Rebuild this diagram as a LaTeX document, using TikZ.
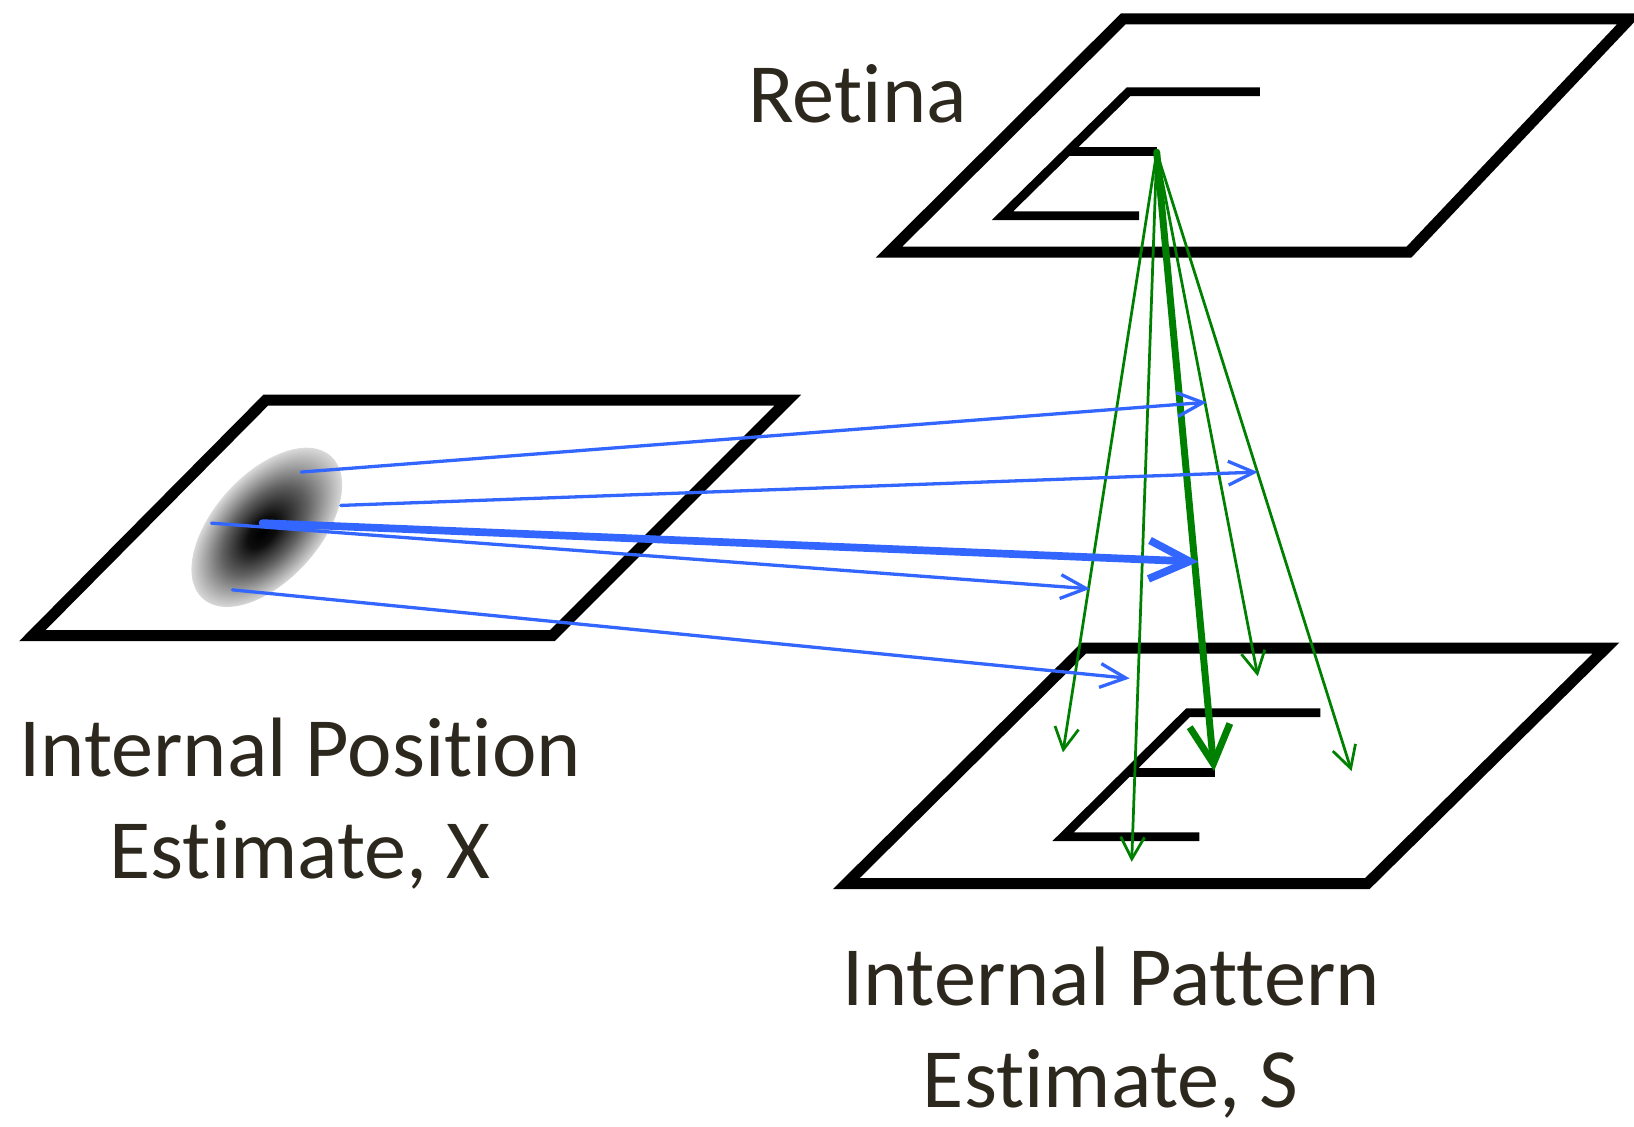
\documentclass[tikz,border=0pt]{standalone}
\usepackage{fontspec}
\setmainfont[Ligatures=NoCommon]{Carlito}
\usetikzlibrary{arrows.meta,positioning}
\definecolor{labelgray}{RGB}{45,40,30}
\definecolor{rayblue}{RGB}{51,102,255}
\definecolor{raygreen}{RGB}{0,128,0}
\pgfdeclareradialshading{blob}{\pgfpoint{-2bp}{0bp}}{color(0bp)=(black); color(5bp)=(black!95); color(14bp)=(black!62); color(20bp)=(black!36); color(25bp)=(black!15); color(26bp)=(white)}

\begin{document}
\begin{tikzpicture}[x=0.01cm, y=-0.01cm]
\tikzstyle{plane} = [line width=3pt, line join=miter]
\tikzstyle{letter} = [line width=2.4pt, line join=miter]
\tikzstyle{planelabel} = [text=labelgray, font=\fontsize{23}{27.9}\selectfont, align=center, inner sep=0pt]
\tikzstyle{greenray} = [raygreen, line width=0.75pt, line cap=round, -{Straight Barb[length=6pt, width=6.5pt]}]
\tikzstyle{greenbig} = [raygreen, line width=1.9pt, line cap=round, -{Straight Barb[length=10.5pt, width=11pt]}]
\tikzstyle{blueray} = [rayblue, line width=0.9pt, line cap=round, -{Straight Barb[length=7pt, width=6.5pt]}]
\tikzstyle{bluebig} = [rayblue, line width=2.1pt, line cap=round, -{Straight Barb[length=11pt, width=10.5pt]}]

\useasboundingbox (0,0) rectangle (1568,1081);

% planes
\draw [plane] (1078,18) -- (1564,18) -- (1352,242) -- (853,242) -- cycle;
\draw [plane] (255,384) -- (756,384) -- (530,610) -- (31,610) -- cycle;
\draw [plane] (1040,622) -- (1541,622) -- (1312,848) -- (812,848) -- cycle;

% letter E on the retina and on the pattern estimate
\draw [letter] (1209,88) -- (1083,88) -- (962,207) -- (1093,207);
\draw [letter] (1026,145) -- (1110,145);
\draw [letter] (1267,684) -- (1140,684) -- (1020,803) -- (1151,803);
\draw [letter] (1082,741) -- (1166,741);

% position estimate blob
\begin{scope}[transform canvas={shift={(256,506)}, rotate=48}]
\shade [shading=blob] (0,0) ellipse [x radius=92, y radius=51];
\end{scope}

% labels
\node [planelabel, anchor=base] (retina) at (823,118) {Retina};
\node [planelabel, anchor=base] (posx) at (288,843) {Internal Position\\Estimate, X};
\node [planelabel, anchor=base] (pats) at (1066,1063) {Internal Pattern\\Estimate, S};

% rays from the retina
\coordinate (fovea) at (1110,146);
\coordinate (g1) at (1020,722);
\coordinate (g2) at (1086,827);
\coordinate (g3) at (1165,740);
\coordinate (g4) at (1207,649);
\coordinate (g5) at (1297,740);
\draw [greenray] (fovea) -- (g1);
\draw [greenray] (fovea) -- (g2);
\draw [greenbig] (fovea) -- (g3);
\draw [greenray] (fovea) -- (g4);
\draw [greenray] (fovea) -- (g5);

% rays from the position estimate
\coordinate (b1) at (289,453);
\coordinate (b2) at (327,485);
\coordinate (b3) at (252,502);
\coordinate (b4) at (203,502);
\coordinate (b5) at (223,566);
\coordinate (t1) at (1158,386);
\coordinate (t2) at (1207,453);
\coordinate (t3) at (1150,539);
\coordinate (t4) at (1046,565);
\coordinate (t5) at (1084,651);
\draw [blueray] (b1) -- (t1);
\draw [blueray] (b2) -- (t2);
\draw [bluebig] (b3) -- (t3);
\draw [blueray] (b4) -- (t4);
\draw [blueray] (b5) -- (t5);
\end{tikzpicture}
\end{document}
